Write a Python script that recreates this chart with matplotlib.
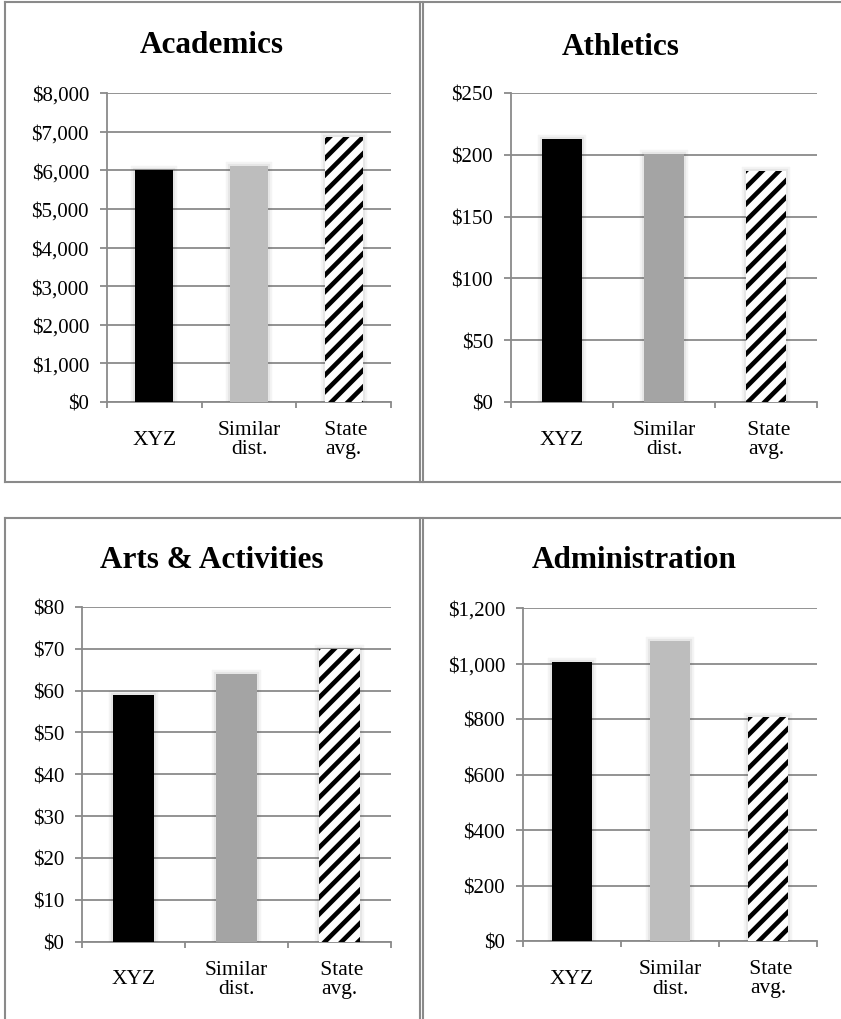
import matplotlib
matplotlib.use("Agg")
import matplotlib.pyplot as plt
import matplotlib.patheffects as pe
from matplotlib.lines import Line2D
from matplotlib.ticker import FixedLocator

plt.rcParams["font.family"] = ["Liberation Serif", "DejaVu Serif"]
plt.rcParams["hatch.linewidth"] = 3.3

W, H = 841, 1020
GRID = "#8a8a8a"

# spending per pupil
categories = ["XYZ", "Similar\ndist.", " State\navg."]
academics = [6000, 6120, 6860]
athletics = [213, 201, 187]
arts = [59, 64, 70]
admin = [1004, 1080, 806]

academics_ticks = list(range(0, 8001, 1000))
athletics_ticks = list(range(0, 251, 50))
arts_ticks = list(range(0, 81, 10))
admin_ticks = list(range(0, 1201, 200))

fig = plt.figure(figsize=(W / 100, H / 100), dpi=100)

# soft glow around the bars
glow = [pe.Stroke(linewidth=6, foreground="0.3", alpha=0.06),
        pe.Stroke(linewidth=3, foreground="0.3", alpha=0.08),
        pe.Normal()]


def ax_at(x0, y0, x1, y1):
    # pixel box (top-left origin) -> axes
    return fig.add_axes([x0 / W, 1 - y1 / H, (x1 - x0) / W, (y1 - y0) / H])


def money(v):
    return "${:,}".format(v)


def panel(ax, values, ticks, similar_color):
    x = range(len(values))
    bars = [
        ax.bar(x[0], values[0], width=0.4, color="black", zorder=3),
        ax.bar(x[1], values[1], width=0.4, color=similar_color, zorder=3),
        ax.bar(x[2], values[2], width=0.4, facecolor="white", hatch="//",
               edgecolor="black", linewidth=0, zorder=3),
    ]
    for b in bars:
        for p in b.patches:
            p.set_path_effects(glow)
    ax.set_xlim(-0.5, 2.5)
    ax.set_ylim(0, ticks[-1])
    ax.set_yticks(ticks)
    ax.set_yticklabels([money(t) for t in ticks], fontsize=15)
    ax.yaxis.grid(True, color=GRID, linewidth=1.3, zorder=0)
    ax.set_axisbelow(True)
    for s in ["top", "right"]:
        ax.spines[s].set_visible(False)
    for s in ["left", "bottom"]:
        ax.spines[s].set_color(GRID)
        ax.spines[s].set_linewidth(1.3)
    ax.tick_params(axis="y", length=5, width=1.3, color=GRID, pad=8)
    ax.set_xticks(list(x))
    ax.set_xticklabels(categories, fontsize=15.5, linespacing=1.0)
    for lab in ax.get_xticklabels():
        lab.set_verticalalignment("center")
    ax.tick_params(axis="x", which="major", length=0, pad=27)
    ax.xaxis.set_minor_locator(FixedLocator([-0.5, 0.5, 1.5, 2.5]))
    ax.tick_params(axis="x", which="minor", length=4.5, width=1.3, color=GRID)


ax1 = ax_at(107, 94, 391, 403)
panel(ax1, academics, academics_ticks, "#bdbdbd")
ax2 = ax_at(511, 94, 817, 403)
panel(ax2, athletics, athletics_ticks, "#a4a4a4")
ax3 = ax_at(82, 608, 391, 942.5)
panel(ax3, arts, arts_ticks, "#a4a4a4")
ax4 = ax_at(523, 609, 817, 942)
panel(ax4, admin, admin_ticks, "#bdbdbd")

# panel titles
for title, cx, cy in [("Academics", 212, 53), ("Athletics", 621, 55),
                      ("Arts & Activities", 212, 568), ("Administration", 634, 568)]:
    fig.text(cx / W, 1 - cy / H, title, ha="center", va="baseline",
             fontsize=22.5, fontweight="bold")


# panel frames
def hline(y, x0, x1, lw=1.5):
    fig.add_artist(Line2D([x0 / W, x1 / W], [1 - y / H, 1 - y / H],
                          color=GRID, linewidth=lw, transform=fig.transFigure))


def vline(x, y0, y1, lw=1.5):
    fig.add_artist(Line2D([x / W, x / W], [1 - y0 / H, 1 - y1 / H],
                          color=GRID, linewidth=lw, transform=fig.transFigure))


hline(2.5, 5, W)
hline(483, 5, W)
hline(518.5, 5, W)
vline(5, 2.5, 483)
vline(5, 518.5, H)
vline(419.5, 2.5, 483)
vline(422.5, 2.5, 483)
vline(419.5, 518.5, H)
vline(422.5, 518.5, H)

fig.savefig("out.png", dpi=100)
